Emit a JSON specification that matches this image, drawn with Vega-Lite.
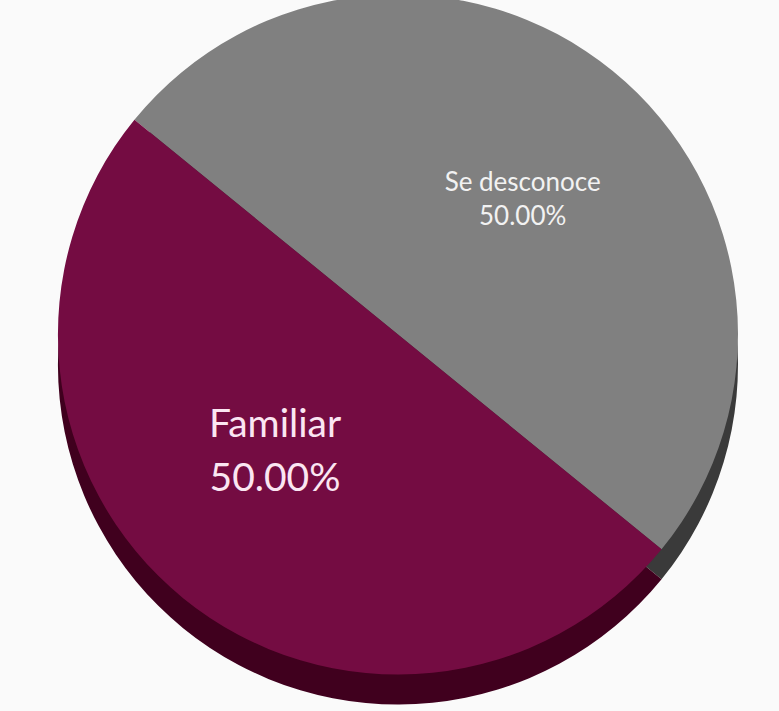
{
  "$schema": "https://vega.github.io/schema/vega-lite/v6.json",
  "autosize": {"type": "fit", "contains": "padding"},
  "width": 779,
  "height": 711,
  "padding": {"top": 0, "bottom": 27, "left": 17, "right": 0},
  "background": "#fafafa",
  "view": {"stroke": null},
  "data": {"values": [
    {"cat": "Se desconoce", "pct": 50.0, "ord": 1},
    {"cat": "Familiar", "pct": 50.0, "ord": 2}
  ]},
  "transform": [
    {"calculate": "datum.cat + '\\n' + format(datum.pct, '.2f') + '%'", "as": "lbl"}
  ],
  "encoding": {
    "theta": {"field": "pct", "type": "quantitative", "stack": true, "scale": {"range": [-0.887, 5.3962]}},
    "order": {"field": "ord", "type": "quantitative"}
  },
  "layer": [
    {
      "mark": {"type": "arc", "radius": 340, "yOffset": 30, "stroke": null},
      "encoding": {
        "fill": {"field": "cat", "type": "nominal", "legend": null,
          "scale": {"domain": ["Se desconoce", "Familiar"], "range": ["#3a3a3a", "#40001e"]}}
      }
    },
    {
      "mark": {"type": "arc", "radius": 340, "stroke": null},
      "encoding": {
        "color": {"field": "cat", "type": "nominal", "legend": null,
          "scale": {"domain": ["Se desconoce", "Familiar"], "range": ["#808080", "#740c42"]}}
      }
    },
    {
      "mark": {"type": "text", "radius": 163, "dx": -20, "dy": -36, "lineBreak": "\n", "font": "Lato", "align": "center", "baseline": "middle", "fontSize": 39, "lineHeight": 54, "color": "#fbe6f2"},
      "encoding": {"text": {"condition": {"test": "datum.cat == 'Familiar'", "field": "lbl"}, "value": ""}}
    },
    {
      "mark": {"type": "text", "radius": 191, "dx": 4, "dy": -3, "lineBreak": "\n", "font": "Lato", "align": "center", "baseline": "middle", "fontSize": 26, "lineHeight": 34, "color": "#f2f2f2"},
      "encoding": {"text": {"condition": {"test": "datum.cat == 'Se desconoce'", "field": "lbl"}, "value": ""}}
    }
  ],
  "resolve": {"scale": {"color": "independent", "fill": "independent"}}
}
